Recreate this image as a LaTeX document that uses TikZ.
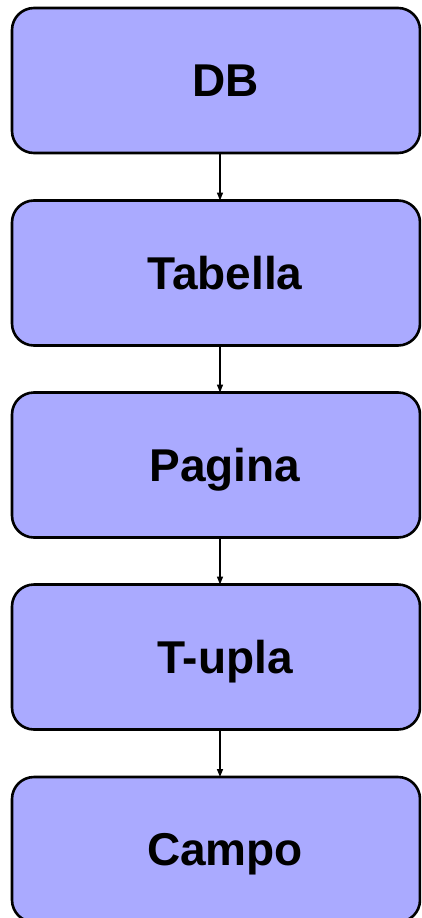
\documentclass[tikz,border=0pt]{standalone}
\usepackage{fontspec}
\setmainfont{Liberation Sans}
\usetikzlibrary{arrows.meta}
\definecolor{boxfill}{HTML}{AAAAFF}
\tikzset{
  levelbox/.style={draw=black, line width=2.6pt, fill=boxfill, rounded corners=22pt,
    minimum width=408pt, minimum height=145pt, inner sep=0pt, outer sep=0pt},
  lbl/.style={font=\fontsize{46}{55}\selectfont\bfseries, inner sep=0pt, anchor=base},
  link/.style={line width=1.5pt, -{Triangle[length=8pt,width=6pt]}}
}
\begin{document}
\begin{tikzpicture}[x=1pt,y=1pt]
\useasboundingbox (0,0) rectangle (421,-918);
\clip (0,0) rectangle (421,-918);
\node[levelbox] (b1) at (216,-80.5) {};
\node[levelbox] (b2) at (216,-273) {};
\node[levelbox] (b3) at (216,-465) {};
\node[levelbox] (b4) at (216,-657) {};
\node[levelbox] (b5) at (216,-849.5) {};
\node[lbl] (t1) at (225.5,-96.5) {DB};
\node[lbl] (t2) at (225,-289) {Tabella};
\node[lbl] (t3) at (225,-481) {Pagina};
\node[lbl] (t4) at (225,-673) {T-upla};
\node[lbl] (t5) at (225,-865.5) {Campo};
\draw[link] (b1.south -| 220,0) -- (b2.north -| 220,0);
\draw[link] (b2.south -| 220,0) -- (b3.north -| 220,0);
\draw[link] (b3.south -| 220,0) -- (b4.north -| 220,0);
\draw[link] (b4.south -| 220,0) -- (b5.north -| 220,0);
\end{tikzpicture}
\end{document}
